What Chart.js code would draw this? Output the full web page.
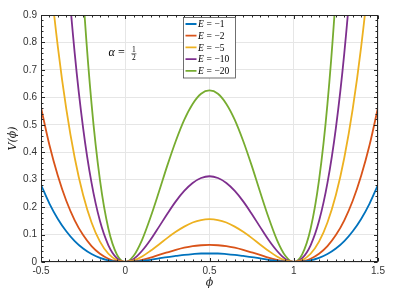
<!DOCTYPE html>
<html>
<head>
<meta charset="utf-8">
<script src="https://cdn.jsdelivr.net/npm/chart.js@4.4.1/dist/chart.umd.min.js"></script>
<style>
  html, body { margin: 0; padding: 0; background: #fff; }
  #wrap { width: 409px; height: 300px; }
</style>
</head>
<body>
<div id="wrap"><canvas id="potChart" width="409" height="300"></canvas></div>
<script>
// phi grid (x values)
const phi = [-0.5, -0.45, -0.4, -0.35, -0.3, -0.25, -0.2, -0.15, -0.1, -0.05, 0,
  0.05, 0.1, 0.15, 0.2, 0.25, 0.3, 0.35, 0.4, 0.45, 0.5,
  0.55, 0.6, 0.65, 0.7, 0.75, 0.8, 0.85, 0.9, 0.95, 1,
  1.05, 1.1, 1.15, 1.2, 1.25, 1.3, 1.35, 1.4, 1.45, 1.5];

const energies = [-1, -2, -5, -10, -20];

const vE1 = [0.281, 0.213, 0.157, 0.112, 0.076, 0.049, 0.029, 0.015, 0.006, 0.0014, 0,
  0.0011, 0.004, 0.008, 0.013, 0.018, 0.022, 0.026, 0.029, 0.031, 0.031,
  0.031, 0.029, 0.026, 0.022, 0.018, 0.013, 0.008, 0.004, 0.0011, 0,
  0.0014, 0.006, 0.015, 0.029, 0.049, 0.076, 0.112, 0.157, 0.213, 0.281];

const vE2 = [0.563, 0.426, 0.314, 0.223, 0.152, 0.098, 0.058, 0.030, 0.012, 0.0028, 0,
  0.0023, 0.008, 0.016, 0.026, 0.035, 0.044, 0.052, 0.058, 0.061, 0.0625,
  0.061, 0.058, 0.052, 0.044, 0.035, 0.026, 0.016, 0.008, 0.0023, 0,
  0.0028, 0.012, 0.030, 0.058, 0.098, 0.152, 0.223, 0.314, 0.426, 0.563];

const vE5 = [1.406, 1.064, 0.784, 0.558, 0.380, 0.244, 0.144, 0.074, 0.030, 0.0069, 0,
  0.0056, 0.020, 0.041, 0.064, 0.088, 0.110, 0.129, 0.144, 0.153, 0.156,
  0.153, 0.144, 0.129, 0.110, 0.088, 0.064, 0.041, 0.020, 0.0056, 0,
  0.0069, 0.030, 0.074, 0.144, 0.244, 0.380, 0.558, 0.784, 1.064, 1.406];

const vE10 = [2.81, 2.13, 1.57, 1.12, 0.761, 0.488, 0.288, 0.149, 0.061, 0.014, 0,
  0.011, 0.041, 0.081, 0.128, 0.176, 0.221, 0.259, 0.288, 0.306, 0.3125,
  0.306, 0.288, 0.259, 0.221, 0.176, 0.128, 0.081, 0.041, 0.011, 0,
  0.014, 0.061, 0.149, 0.288, 0.488, 0.761, 1.12, 1.57, 2.13, 2.81];

const vE20 = [5.63, 4.26, 3.14, 2.23, 1.52, 0.977, 0.576, 0.298, 0.121, 0.028, 0,
  0.023, 0.081, 0.163, 0.256, 0.352, 0.441, 0.518, 0.576, 0.613, 0.625,
  0.613, 0.576, 0.518, 0.441, 0.352, 0.256, 0.163, 0.081, 0.023, 0,
  0.028, 0.121, 0.298, 0.576, 0.977, 1.52, 2.23, 3.14, 4.26, 5.63];

const xTicks = [-0.5, 0, 0.5, 1, 1.5];
const xTickLabels = ["-0.5", "0", "0.5", "1", "1.5"];
const yTicks = [0, 0.1, 0.2, 0.3, 0.4, 0.5, 0.6, 0.7, 0.8, 0.9];
const yTickLabels = ["0", "0.1", "0.2", "0.3", "0.4", "0.5", "0.6", "0.7", "0.8", "0.9"];

const colors = ["#0072BD", "#D95319", "#EDB120", "#7E2F8E", "#77AC30"];
const series = [vE1, vE2, vE5, vE10, vE20];


function toPoints(values) {
    return values.map((v, i) => ({ x: phi[i], y: v }));
}

const axisColor = "#262626";
const serif = "'DejaVu Serif', 'Liberation Serif', serif";
const serifText = "'Liberation Serif', 'DejaVu Serif', serif";

// box, inner ticks, legend and the alpha note, drawn on top like matlab
const decorations = {
    id: "decorations",
    afterDatasetsDraw(chart) {
        const ctx = chart.ctx;
        const a = chart.chartArea;
        const x = chart.scales.x;
        const y = chart.scales.y;
        const L = Math.round(a.left) + 0.5, R = Math.round(a.right) - 0.5;
        const T = Math.round(a.top) + 0.5, B = Math.round(a.bottom) - 0.5;

        ctx.save();
        ctx.strokeStyle = axisColor;
        ctx.lineWidth = 1;

        // minor + major ticks
        ctx.beginPath();
        for (let i = 0; i <= 40; i++) {
            const px = Math.round(x.getPixelForValue(-0.5 + i * 0.05)) + 0.5;
            const len = (i % 10 === 0) ? 3.5 : 2;
            ctx.moveTo(px, B); ctx.lineTo(px, B - len);
            ctx.moveTo(px, T); ctx.lineTo(px, T + len);
        }
        for (let i = 0; i <= 45; i++) {
            const py = Math.round(y.getPixelForValue(i * 0.02)) + 0.5;
            const len = (i % 5 === 0) ? 3.5 : 2;
            ctx.moveTo(L, py); ctx.lineTo(L + len, py);
            ctx.moveTo(R, py); ctx.lineTo(R - len, py);
        }
        ctx.stroke();
        ctx.strokeRect(L, T, R - L, B - T);

        // legend
        const bx = Math.round((a.left + a.right) / 2) - 26.5;
        const by = Math.round(a.top) + 2.5;
        const bw = 52, rowH = 11.7;
        const bh = 60.5;
        ctx.fillStyle = "#fff";
        ctx.fillRect(bx, by, bw, bh);
        ctx.strokeStyle = "#4d4d4d";
        ctx.lineWidth = 0.8;
        ctx.strokeRect(bx, by, bw, bh);

        ctx.save();
        ctx.beginPath();
        ctx.rect(bx, by, bw, bh);
        ctx.clip();
        chart.data.datasets.forEach((ds, i) => {
            const cy = by + 6.5 + i * rowH;
            ctx.strokeStyle = ds.borderColor;
            ctx.lineWidth = 1.8;
            ctx.beginPath();
            ctx.moveTo(bx + 2, cy);
            ctx.lineTo(bx + 13, cy);
            ctx.stroke();

            ctx.fillStyle = "#000";
            ctx.textBaseline = "alphabetic";
            ctx.textAlign = "left";
            ctx.font = "italic 9.5px " + serifText;
            ctx.fillText("E", bx + 14.5, cy + 3.3);
            ctx.font = "9.5px " + serifText;
            ctx.fillText("=", bx + 23, cy + 3.3);
            ctx.fillText("\u2212" + Math.abs(energies[i]), bx + 31, cy + 3.3);
        });
        ctx.restore();

        // alpha = 1/2 note
        const ax = x.getPixelForValue(-0.1);
        const ay = y.getPixelForValue(0.76) + 3;
        ctx.fillStyle = "#000";
        ctx.textAlign = "left";
        ctx.textBaseline = "alphabetic";
        ctx.font = "italic 12px " + serifText;
        ctx.fillText("\u03B1", ax, ay);
        ctx.font = "12px " + serifText;
        ctx.fillText("=", ax + 9.5, ay);
        ctx.font = "7.5px " + serifText;
        ctx.textAlign = "center";
        ctx.fillText("1", ax + 25.5, ay - 4);
        ctx.fillText("2", ax + 25.5, ay + 3.5);
        ctx.strokeStyle = "#000";
        ctx.lineWidth = 0.6;
        ctx.beginPath();
        ctx.moveTo(ax + 23, ay - 2.6);
        ctx.lineTo(ax + 28, ay - 2.6);
        ctx.stroke();

        ctx.restore();
    }
};


function createChart() {

    const ctx = document.getElementById("potChart").getContext("2d");

    const datasets = series.map((values, i) => ({
        label: "E = \u2212" + Math.abs(energies[i]),
        data: toPoints(values),
        borderColor: colors[i],
        backgroundColor: colors[i],
        borderWidth: 1.8,
        pointRadius: 0,
        cubicInterpolationMode: "monotone",
        fill: false
    }));

    new Chart(ctx, {
        type: "line",
        data: { datasets: datasets },
        plugins: [decorations],
        options: {
            responsive: false,
            animation: false,
            layout: { padding: { top: 15, right: 31, left: 0, bottom: 0 } },
            plugins: {
                legend: { display: false },
                tooltip: { enabled: false }
            },
            scales: {
                x: {
                    type: "linear",
                    min: -0.5,
                    max: 1.5,
                    afterBuildTicks: scale => {
                        scale.ticks = xTicks.map(v => ({ value: v }));
                    },
                    afterFit: scale => { scale.height = 38; },
                    ticks: {
                        padding: 3,
                        color: "#333",
                        font: { family: "'Liberation Sans', Arial, sans-serif", size: 10 },
                        maxRotation: 0,
                        autoSkip: false,
                        callback: (v, i) => xTickLabels[i]
                    },
                    grid: { color: "#e6e6e6", drawTicks: false },
                    border: { display: false },
                    title: {
                        display: true,
                        text: "\u03D5",
                        color: "#222",
                        padding: { top: 0, bottom: 10 },
                        font: { family: serif, size: 11, style: "italic" }
                    }
                },
                y: {
                    min: 0,
                    max: 0.9,
                    afterBuildTicks: scale => {
                        scale.ticks = yTicks.map(v => ({ value: v }));
                    },
                    afterFit: scale => { scale.width = 41; },
                    ticks: {
                        padding: 4,
                        color: "#333",
                        font: { family: "'Liberation Sans', Arial, sans-serif", size: 10 },
                        autoSkip: false,
                        callback: (v, i) => yTickLabels[i]
                    },
                    grid: { color: "#e6e6e6", drawTicks: false },
                    border: { display: false },
                    title: {
                        display: true,
                        text: "V(\u03D5)",
                        color: "#222",
                        padding: { top: 7, bottom: 0 },
                        font: { family: serif, size: 11, style: "italic" }
                    }
                }
            }
        }
    });
}

document.addEventListener("DOMContentLoaded", function () {
    createChart();
});
</script>
</body>
</html>
